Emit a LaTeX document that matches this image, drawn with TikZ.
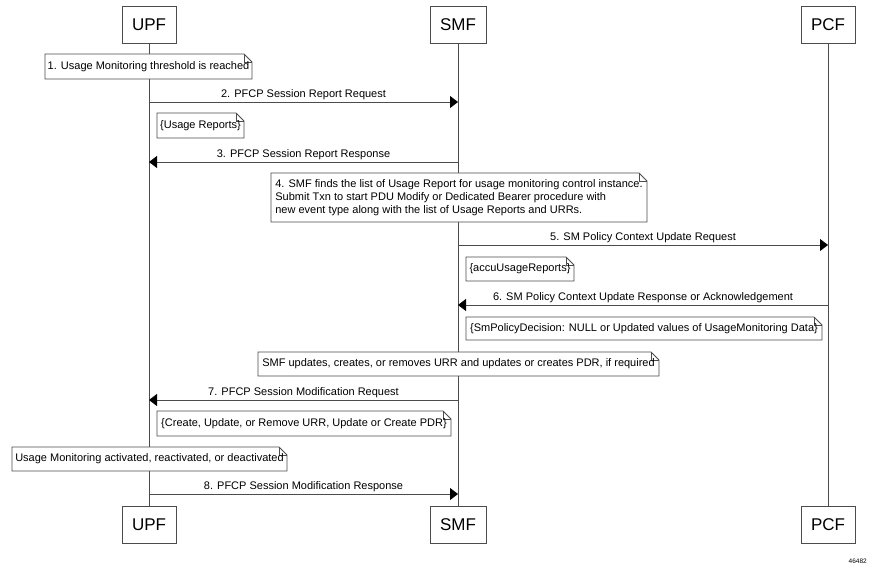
\documentclass[tikz,border=0pt]{standalone}
\usepackage{fontspec}
\setmainfont{Liberation Sans}
\usetikzlibrary{arrows.meta}
\definecolor{ln}{gray}{0.3}
\newcommand\mynote[7][]{%
  \path[fill=white] (#2,#3) rectangle (#4,#5);
  \draw[notec] (#2,#3) -- (#4-8,#3) -- (#4,#3+8) -- (#4,#5) -- (#2,#5) -- cycle;
  \draw[notec] (#4-8,#3) -- (#4-8,#3+8) -- (#4,#3+8);
  \node[notetext,#1] (#6) at ({(#2+#4)/2},{(#3+#5)/2}) {#7};
}
\begin{document}
\begin{tikzpicture}[x=1pt,y=-1pt,
  actor/.style={draw=ln, line width=0.8pt, minimum width=54pt, minimum height=37pt, inner sep=0pt, font=\fontsize{17}{20}\selectfont, fill=white},
  life/.style={draw=ln, line width=0.8pt},
  msg/.style={draw=ln, line width=0.8pt, -{Triangle[length=8pt,width=12pt,color=black]}},
  mlab/.style={above, inner sep=1.5pt, font=\fontsize{11}{13}\selectfont},
  notetext/.style={inner sep=0pt, font=\fontsize{11}{13}\selectfont},
  notec/.style={draw=ln, line width=0.8pt}]
\useasboundingbox[fill=white] (0,0) rectangle (870,565);

% participants
\node[actor] (upfT) at (149,24.5) {UPF};
\node[actor, minimum width=56pt] (smfT) at (458,24.5) {SMF};
\node[actor] (pcfT) at (828,24.5) {PCF};
\node[actor] (upfB) at (149,524.5) {UPF};
\node[actor, minimum width=56pt] (smfB) at (458,524.5) {SMF};
\node[actor] (pcfB) at (828,524.5) {PCF};

\draw[life] (upfT) -- (upfB);
\draw[life] (smfT) -- (smfB);
\draw[life] (pcfT) -- (pcfB);

% lifeline points
\coordinate (u2) at (149,102);  \coordinate (s2) at (458,102);
\coordinate (u3) at (149,162);  \coordinate (s3) at (458,162);
\coordinate (s5) at (458,245);  \coordinate (p5) at (828,245);
\coordinate (s6) at (458,305);  \coordinate (p6) at (828,305);
\coordinate (u7) at (149,400);  \coordinate (s7) at (458,400);
\coordinate (u8) at (149,494);  \coordinate (s8) at (458,494);

% notes
\mynote{45}{54}{252}{79}{n1}{1. Usage Monitoring threshold is reached}
\mynote{157}{113}{244}{138}{n2}{\{Usage Reports\}}
\mynote[align=left]{271}{173}{647}{222}{n4}{4. SMF finds the list of Usage Report for usage monitoring control instance.\\Submit Txn to start PDU Modify or Dedicated Bearer procedure with\\new event type along with the list of Usage Reports and URRs.}
\mynote{466}{257}{574}{281}{n5}{\{accuUsageReports\}}
\mynote{466}{317}{822}{340}{n6}{\{SmPolicyDecision: NULL or Updated values of UsageMonitoring Data\}}
\mynote{258}{352}{659}{376}{n6b}{SMF updates, creates, or removes URR and updates or creates PDR, if required}
\mynote{157}{411}{451}{436}{n7}{\{Create, Update, or Remove URR, Update or Create PDR\}}
\mynote{12}{447}{287}{471}{n8}{Usage Monitoring activated, reactivated, or deactivated}

% messages
\draw[msg] (u2) -- node[mlab] {2. PFCP Session Report Request} (s2);
\draw[msg] (s3) -- node[mlab] {3. PFCP Session Report Response} (u3);
\draw[msg] (s5) -- node[mlab] {5. SM Policy Context Update Request} (p5);
\draw[msg] (p6) -- node[mlab] {6. SM Policy Context Update Response or Acknowledgement} (s6);
\draw[msg] (s7) -- node[mlab] {7. PFCP Session Modification Request} (u7);
\draw[msg] (u8) -- node[mlab] {8. PFCP Session Modification Response} (s8);

\node[font=\fontsize{6.5}{7}\selectfont, anchor=east, inner sep=0pt] (fig) at (867,561) {46482};
\end{tikzpicture}
\end{document}
